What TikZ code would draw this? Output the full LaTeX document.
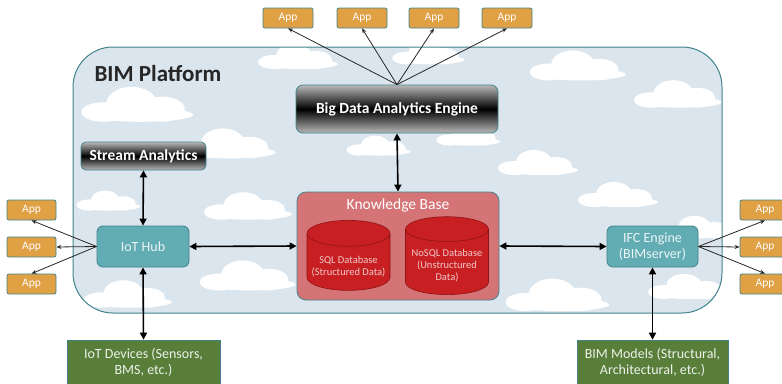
\documentclass[tikz,border=0pt]{standalone}
\usepackage{fontspec}
\setmainfont{Carlito}
\usetikzlibrary{shapes.geometric,arrows.meta,positioning}

\definecolor{tealline}{RGB}{66,132,140}
\definecolor{skyblue}{RGB}{219,229,237}
\definecolor{appgold}{RGB}{224,160,68}
\definecolor{hubteal}{RGB}{98,172,180}
\definecolor{kbred}{RGB}{212,116,118}
\definecolor{cylred}{RGB}{200,32,34}
\definecolor{cyldark}{RGB}{140,20,22}
\definecolor{devgreen}{RGB}{88,126,58}

\tikzset{
  appbox/.style={draw=tealline,fill=appgold,rounded corners=2pt,line width=0.8pt,
    minimum width=50pt,minimum height=20pt,inner sep=0pt,text=white,
    font=\fontsize{11.5}{12}\selectfont},
  hubbox/.style={draw=tealline,fill=hubteal,rounded corners=6pt,line width=0.8pt,
    minimum width=92pt,minimum height=41pt,inner sep=1pt,align=center,
    text=white!88!hubteal,font=\fontsize{14}{16}\selectfont},
  darkbox/.style={draw=tealline,rounded corners=7pt,line width=0.8pt,
    top color=gray!55,bottom color=gray!55,middle color=black,
    text=white,inner sep=0pt,font=\bfseries},
  greenbox/.style={draw=tealline,fill=devgreen,line width=0.6pt,
    minimum height=44pt,inner sep=1pt,align=center,text=white!90!devgreen,
    font=\fontsize{14}{16}\selectfont},
  dbcyl/.style={cylinder,shape border rotate=90,aspect=0.35,draw=cyldark,
    fill=cylred,line width=0.6pt,minimum width=83pt,minimum height=70pt,
    inner sep=0pt,align=center,text=white!75!cylred,
    font=\fontsize{10.5}{12}\selectfont},
  link/.style={{Triangle[length=7pt,width=7pt]}-{Triangle[length=7pt,width=7pt]},
    line width=1.6pt},
  applink/.style={-{Stealth[length=5pt,width=4pt]},line width=0.8pt,black!85},
  cloudpuff/.pic={
    \fill[white] (-26,0) ellipse (16 and 7) (-6,-6) ellipse (18 and 12)
      (16,-2) ellipse (16 and 9) (0,2) ellipse (38 and 5);
  }
}

\begin{document}
\begin{tikzpicture}[x=1pt,y=-1pt]
\useasboundingbox (0,0) rectangle (782,383);

% platform with clouds
\path[fill=skyblue] (73,47) [rounded corners=40pt] rectangle (722,313);
\begin{scope}
\clip (73,47) [rounded corners=40pt] rectangle (722,313);
\foreach \cx/\cy/\cs in {140/112/1.4, 300/62/1.0, 430/58/0.9, 580/72/1.2, 680/100/1.1,
  230/150/1.2, 380/150/0.8, 540/168/1.0, 620/200/1.0, 700/232/0.9, 250/212/1.1,
  110/205/0.8, 250/282/1.2, 560/302/1.3, 130/300/1.1, 690/292/1.0, 470/140/0.8}
  \pic[scale=\cs] at (\cx,\cy) {cloudpuff};
\end{scope}
\draw[tealline,line width=1pt] (73,47) [rounded corners=40pt] rectangle (722,313);
\node[anchor=west,font=\fontsize{23}{25}\selectfont\bfseries,text=black!85] (title) at (91,74) {BIM Platform};

% apps on top
\node[appbox] (appT1) at (288,18) {App};
\node[appbox] (appT2) at (362,18) {App};
\node[appbox] (appT3) at (434,18) {App};
\node[appbox] (appT4) at (507,18) {App};

% engines
\node[darkbox,minimum width=202pt,minimum height=48pt,font=\fontsize{15.5}{17}\selectfont\bfseries] (bigdata) at (397,109) {Big Data Analytics Engine};
\node[darkbox,minimum width=125pt,minimum height=28pt,rounded corners=5pt,font=\fontsize{15.5}{17}\selectfont\bfseries] (stream) at (143.5,156) {Stream Analytics};

% hubs
\node[hubbox] (iothub) at (143,246.5) {IoT Hub};
\node[hubbox,minimum width=91pt] (ifc) at (652.5,246.5) {IFC Engine\\(BIMserver)};

% knowledge base
\node[draw=tealline,fill=kbred,rounded corners=9pt,line width=0.8pt,
  minimum width=202pt,minimum height=108pt] (kb) at (398,246) {};
\node[text=white,font=\fontsize{15.5}{17}\selectfont] (kbtitle) at (398,205) {Knowledge Base};
\node[dbcyl] (sqldb) at (348.5,262) {\rule{0pt}{17pt}SQL Database\\(Structured Data)};
\node[dbcyl] (nosqldb) at (447,262) {\rule{0pt}{15pt}NoSQL Database\\(Unstructured\\Data)};

% side apps
\node[appbox,minimum width=49pt] (appL1) at (31.5,210) {App};
\node[appbox,minimum width=49pt] (appL2) at (31.5,247) {App};
\node[appbox,minimum width=49pt] (appL3) at (31.5,284) {App};
\node[appbox] (appR1) at (765,210) {App};
\node[appbox] (appR2) at (765,247) {App};
\node[appbox] (appR3) at (765,284) {App};

% data sources
\node[greenbox,minimum width=153pt] (iotdev) at (143.5,362) {IoT Devices (Sensors,\\BMS, etc.)};
\node[greenbox,minimum width=151pt] (bimmod) at (652.5,362) {BIM Models (Structural,\\Architectural, etc.)};

% connectors
\draw[link] (stream.south) -- (iothub.north);
\draw[link] (iothub.south) -- (iotdev.north);
\draw[link] (iothub.east) -- (kb.west);
\draw[link] (bigdata.south) -- (kb.north);
\draw[link] (kb.east) -- (ifc.west);
\draw[link] (ifc.south) -- (bimmod.north);

\foreach \a in {appT1,appT2,appT3,appT4}
  \draw[applink] (bigdata.north) -- (\a.south);
\draw[applink] (iothub.west) -- (appL1.south);
\draw[applink] (iothub.west) -- (appL2.east);
\draw[applink] (iothub.west) -- (appL3.north);
\draw[applink] (ifc.east) -- (appR1.south);
\draw[applink] (ifc.east) -- (appR2.west);
\draw[applink] (ifc.east) -- (appR3.north);
\end{tikzpicture}
\end{document}
